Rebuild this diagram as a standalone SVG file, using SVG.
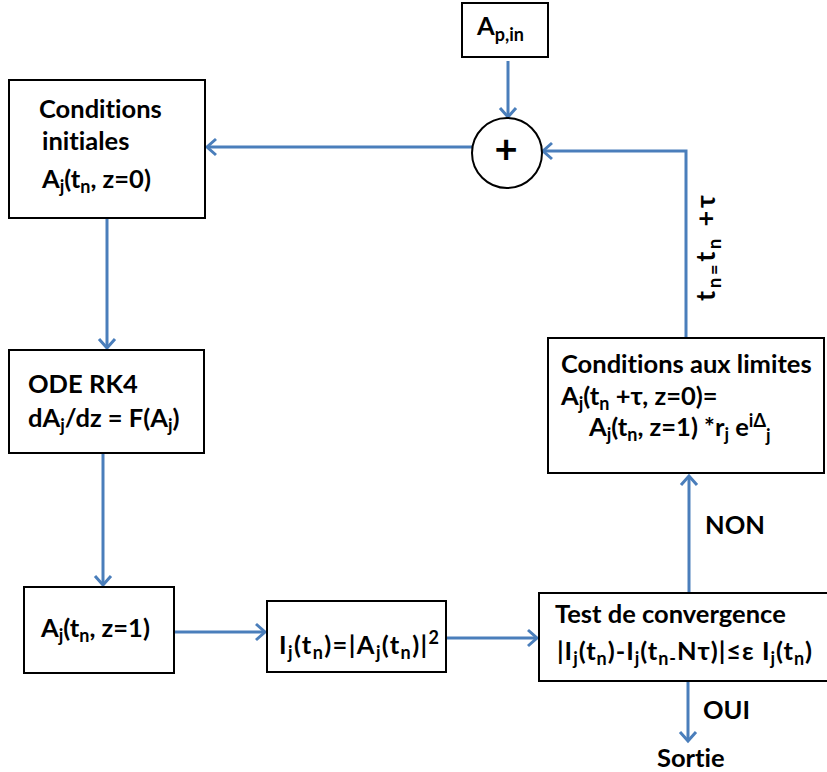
<svg xmlns="http://www.w3.org/2000/svg" width="827" height="772" viewBox="0 0 827 772">
<style>
.box{fill:#fff;stroke:#000;stroke-width:2}
.t{font-family:Lato,"Liberation Sans",sans-serif;font-weight:bold;font-size:25.5px;fill:#000;font-variant-ligatures:none;font-feature-settings:"liga" 0}
.s{font-size:18px}
.c{fill:none;stroke:#4a7ebb;stroke-width:3}
</style>
<defs>
<marker id="ah" markerUnits="userSpaceOnUse" markerWidth="24" markerHeight="24" viewBox="-12 -12 24 24" refX="0" refY="0" orient="auto">
<path d="M-9,-8 L0,0 L-9,8" fill="none" stroke="#4a7ebb" stroke-width="3"/>
</marker>
</defs>
<rect width="827" height="772" fill="#fff"/>
<g id="connectors">
<line class="c" x1="508" y1="61" x2="508" y2="117" marker-end="url(#ah)"/>
<line class="c" x1="472" y1="147" x2="207" y2="147" marker-end="url(#ah)"/>
<polyline class="c" points="686,338 686,151 543,151" marker-end="url(#ah)"/>
<line class="c" x1="107" y1="218" x2="107" y2="348" marker-end="url(#ah)"/>
<line class="c" x1="103" y1="453" x2="103" y2="585" marker-end="url(#ah)"/>
<line class="c" x1="174" y1="632" x2="265" y2="632" marker-end="url(#ah)"/>
<line class="c" x1="446" y1="638" x2="537" y2="638" marker-end="url(#ah)"/>
<line class="c" x1="689" y1="593" x2="689" y2="476" marker-end="url(#ah)"/>
<line class="c" x1="688" y1="681" x2="688" y2="741" marker-end="url(#ah)"/>
</g>
<g id="ap_in">
<rect class="box" x="462" y="3" width="86" height="54"/>
<text class="t" x="477" y="35">A<tspan class="s" dy="6">p,in</tspan></text>
</g>
<g id="sum">
<circle cx="507" cy="153" r="35" fill="#fff" stroke="#000" stroke-width="2"/>
<text class="t" x="506" y="163" text-anchor="middle" style="font-size:40px">+</text>
</g>
<g id="cond_init">
<rect class="box" x="9" y="80" width="196" height="138"/>
<text class="t" x="39" y="118">Conditions</text>
<text class="t" x="42" y="150">initiales</text>
<text class="t" x="42" y="188">A<tspan class="s" dy="5">j</tspan><tspan dy="-5">(t</tspan><tspan class="s" dy="5">n</tspan><tspan dy="-5">, z=0)</tspan></text>
</g>
<g id="ode">
<rect class="box" x="9" y="350" width="195" height="103"/>
<text class="t" x="28" y="393">ODE<tspan x="89">RK4</tspan></text>
<text class="t" x="28" y="427">dA<tspan class="s" dy="5">j</tspan><tspan dy="-5">/dz = F(A</tspan><tspan class="s" dy="5">j</tspan><tspan dy="-5">)</tspan></text>
</g>
<g id="a_z1">
<rect class="box" x="24" y="587" width="150" height="86"/>
<text class="t" x="41" y="637">A<tspan class="s" dy="5">j</tspan><tspan dy="-5">(t</tspan><tspan class="s" dy="5">n</tspan><tspan dy="-5">, z=1)</tspan></text>
</g>
<g id="intensity">
<rect class="box" x="267" y="601" width="179" height="71"/>
<text class="t" x="279" y="654" textLength="160" lengthAdjust="spacing">I<tspan class="s" dy="5">j</tspan><tspan dy="-5">(t</tspan><tspan class="s" dy="5">n</tspan><tspan dy="-5">)=|A</tspan><tspan class="s" dy="5">j</tspan><tspan dy="-5">(t</tspan><tspan class="s" dy="5">n</tspan><tspan dy="-5">)|</tspan><tspan class="s" dy="-10">2</tspan></text>
</g>
<g id="test">
<rect class="box" x="539" y="593" width="292" height="88"/>
<text class="t" x="555" y="623">Test de convergence</text>
<text class="t" x="557" y="660" textLength="255" lengthAdjust="spacing">|I<tspan class="s" dy="5">j</tspan><tspan dy="-5">(t</tspan><tspan class="s" dy="5">n</tspan><tspan dy="-5">)-I</tspan><tspan class="s" dy="5">j</tspan><tspan dy="-5">(t</tspan><tspan class="s" dy="5">n-</tspan><tspan dy="-5">Nτ)|≤ε I</tspan><tspan class="s" dy="5">j</tspan><tspan dy="-5">(t</tspan><tspan class="s" dy="5">n</tspan><tspan dy="-5">)</tspan></text>
</g>
<g id="cond_lim">
<rect class="box" x="548" y="338" width="276" height="135"/>
<text class="t" x="561" y="373">Conditions aux limites</text>
<text class="t" x="561" y="405">A<tspan class="s" dy="5">j</tspan><tspan dy="-5">(t</tspan><tspan class="s" dy="5">n</tspan><tspan dy="-5"> +τ, z=0)=</tspan></text>
<text class="t" x="589" y="436">A<tspan class="s" dy="5">j</tspan><tspan dy="-5">(t</tspan><tspan class="s" dy="5">n</tspan><tspan dy="-5">, z=1) *r</tspan><tspan class="s" dy="5">j</tspan><tspan dy="-5"> e</tspan><tspan class="s" dy="-9">iΔ</tspan><tspan class="s" dy="15">j</tspan></text>
</g>
<g id="labels">
<text class="t" transform="translate(715,301) rotate(-90)" style="font-size:27px" textLength="106" lengthAdjust="spacing">t<tspan class="s" dy="6">n=</tspan><tspan dy="-6">t</tspan><tspan class="s" dy="6">n</tspan><tspan dy="-6"> +τ</tspan></text>
<text class="t" x="705" y="534">NON</text>
<text class="t" x="703" y="719">OUI</text>
<text class="t" x="657" y="767">Sortie</text>
</g>
</svg>
